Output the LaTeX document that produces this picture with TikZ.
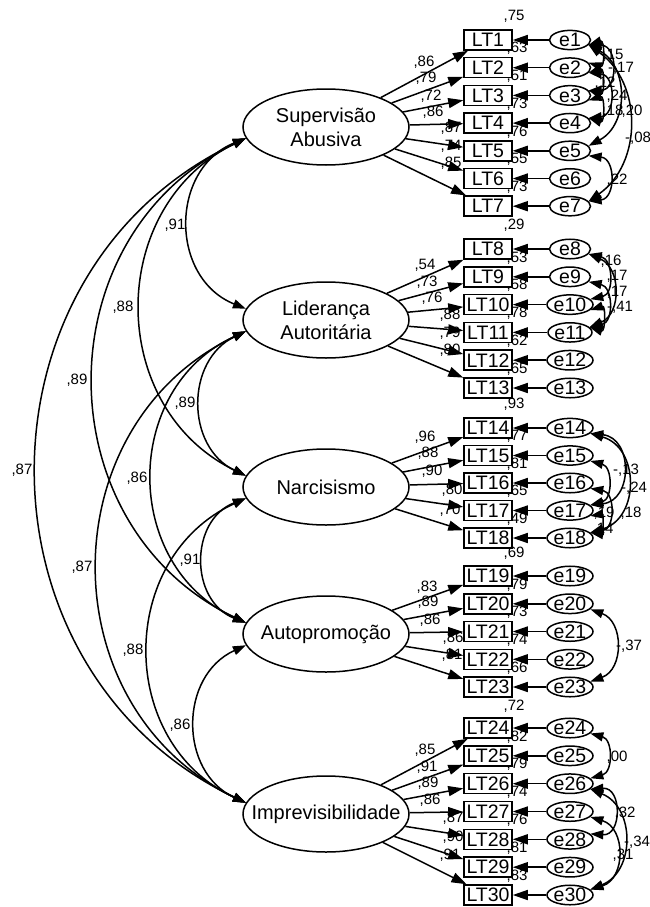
\documentclass[tikz,border=0pt]{standalone}
\usepackage{fontspec}
\setmainfont{Liberation Sans}
\usetikzlibrary{arrows.meta,shapes.geometric}
\begin{document}
\begin{tikzpicture}[x=1pt,y=1pt,line width=1.5pt,
  latent/.style={ellipse,draw,minimum width=166pt,minimum height=76pt,inner sep=0pt,
    label={[lattext]center:#1}},
  lattext/.style={align=center,inner sep=0pt,font=\fontsize{20}{24}\selectfont},
  obs/.style={rectangle,draw,fill=white,minimum width=48pt,minimum height=20pt,inner sep=0pt,
    font=\fontsize{19.5}{20}\selectfont},
  err/.style={ellipse,draw,fill=white,minimum width=41pt,minimum height=19pt,inner sep=0pt,
    font=\fontsize{19.5}{20}\selectfont},
  lbl/.style={inner sep=0pt,font=\fontsize{15}{16}\selectfont},
  load/.style={-{Triangle[length=15pt,width=10pt]}},
  cov/.style={{Triangle[length=13pt,width=9pt]}-{Triangle[length=13pt,width=9pt]}},
  % circular-looking arcs: #1 = angle between tangent and chord
  arcR/.code={\pgfmathsetmacro\arcl{0.8514/(cos(#1/2))^2}\pgfmathsetmacro\arco{-90+#1}%
    \pgfmathsetmacro\arci{90-#1}\edef\arcdo{\noexpand\pgfkeysalso{out=\arco,in=\arci,looseness=\arcl}}\arcdo},
  arcL/.code={\pgfmathsetmacro\arcl{0.8514/(cos(#1/2))^2}\pgfmathsetmacro\arco{-90-#1}%
    \pgfmathsetmacro\arci{90+#1}\edef\arcdo{\noexpand\pgfkeysalso{out=\arco,in=\arci,looseness=\arcl}}\arcdo}]

\useasboundingbox[fill=white] (0,0) rectangle (650,-907);

% latent factors (fixed-size ellipses, text set as centred labels)
\node[latent={Supervisão\\Abusiva}]   (sup)  at (326,-127) {};
\node[latent={Liderança\\Autoritária}] (lid) at (326,-320) {};
\node[latent={Narcisismo}]        (nar)  at (326,-487) {};
\node[latent={Autopromoção}]      (auto) at (326,-634) {};
\node[latent={Imprevisibilidade}] (imp)  at (326,-814) {};

% indicators and their error terms
\foreach \i/\y in {1/40,2/67.7,3/95.4,4/123.1,5/150.8,6/178.5,7/206.2,
  8/249,9/276.8,10/304.6,11/332.4,12/360.2,13/388,
  14/428,15/455.5,16/483,17/510.5,18/538,
  19/576,20/603.8,21/631.5,22/659.3,23/687,
  24/728,25/755.8,26/783.7,27/811.5,28/839.3,29/867.2,30/895}{
  \node[obs] (lt\i) at (488,-\y) {LT\i};
  \node[err] (e\i) at (570,-\y) {e\i};
}

% squared multiple correlations
\node[lbl] (r1)  at (514,-16)    {,75};
\node[lbl] (r2)  at (517,-48.7)  {,63};
\node[lbl] (r3)  at (517,-76.4)  {,51};
\node[lbl] (r4)  at (517,-104.1) {,73};
\node[lbl] (r5)  at (517,-131.8) {,76};
\node[lbl] (r6)  at (517,-159.5) {,55};
\node[lbl] (r7)  at (517,-187.2) {,73};
\node[lbl] (r8)  at (514,-225)   {,29};
\node[lbl] (r9)  at (517,-257.8) {,53};
\node[lbl] (r10) at (517,-285.6) {,58};
\node[lbl] (r11) at (517,-313.4) {,78};
\node[lbl] (r12) at (517,-341.2) {,62};
\node[lbl] (r13) at (517,-369)   {,65};
\node[lbl] (r14) at (514,-404)   {,93};
\node[lbl] (r15) at (517,-436.5) {,77};
\node[lbl] (r16) at (517,-464)   {,81};
\node[lbl] (r17) at (517,-491.5) {,65};
\node[lbl] (r18) at (517,-519)   {,49};
\node[lbl] (r19) at (514,-553)   {,69};
\node[lbl] (r20) at (517,-584.8) {,79};
\node[lbl] (r21) at (517,-612.5) {,73};
\node[lbl] (r22) at (517,-640.3) {,74};
\node[lbl] (r23) at (517,-668)   {,66};
\node[lbl] (r24) at (514,-706)   {,72};
\node[lbl] (r25) at (517,-736.8) {,82};
\node[lbl] (r26) at (517,-764.7) {,79};
\node[lbl] (r27) at (517,-792.5) {,74};
\node[lbl] (r28) at (517,-820.3) {,76};
\node[lbl] (r29) at (517,-848.2) {,81};
\node[lbl] (r30) at (517,-876)   {,83};

% factor loadings
\foreach \i in {1,...,7}   \draw[load] (sup)  -- (lt\i);
\foreach \i in {8,...,13}  \draw[load] (lid)  -- (lt\i);
\foreach \i in {14,...,18} \draw[load] (nar)  -- (lt\i);
\foreach \i in {19,...,23} \draw[load] (auto) -- (lt\i);
\foreach \i in {24,...,30} \draw[load] (imp)  -- (lt\i);
% error paths
\foreach \i in {1,...,30} \draw[load] (e\i) -- (lt\i);

% loading values
\node[lbl] (l1)  at (424,-62)  {,86};
\node[lbl] (l2)  at (426,-78)  {,79};
\node[lbl] (l3)  at (431,-96)  {,72};
\node[lbl] (l4)  at (433,-112) {,86};
\node[lbl] (l5)  at (451,-128) {,87};
\node[lbl] (l6)  at (451,-146) {,74};
\node[lbl] (l7)  at (451,-163) {,85};
\node[lbl] (l8)  at (425,-265) {,54};
\node[lbl] (l9)  at (427,-282) {,73};
\node[lbl] (l10) at (432,-298) {,76};
\node[lbl] (l11) at (450,-315) {,88};
\node[lbl] (l12) at (450,-333) {,79};
\node[lbl] (l13) at (450,-350) {,80};
\node[lbl] (l14) at (425,-437) {,96};
\node[lbl] (l15) at (428,-453) {,88};
\node[lbl] (l16) at (432,-471) {,90};
\node[lbl] (l17) at (452,-490) {,80};
\node[lbl] (l18) at (450,-510) {,70};
\node[lbl] (l19) at (427,-587) {,83};
\node[lbl] (l20) at (428,-602) {,89};
\node[lbl] (l21) at (430,-620) {,86};
\node[lbl] (l22) at (453,-638) {,86};
\node[lbl] (l23) at (452,-655) {,81};
\node[lbl] (l24) at (425,-750) {,85};
\node[lbl] (l25) at (427,-767) {,91};
\node[lbl] (l26) at (428,-783) {,89};
\node[lbl] (l27) at (430,-800) {,86};
\node[lbl] (l28) at (453,-818) {,87};
\node[lbl] (l29) at (453,-837) {,90};
\node[lbl] (l30) at (450,-855) {,91};

% correlations between factors
\draw[cov] (sup.188)  to[arcL=68]   (lid.172);
\draw[cov] (sup.188)  to[arcL=64]   (nar.172);
\draw[cov] (sup.188)  to[arcL=64.4] (auto.172);
\draw[cov] (sup.188)  to[arcL=64.5] (imp.172);
\draw[cov] (lid.188)  to[arcL=64.4] (nar.172);
\draw[cov] (lid.188)  to[arcL=65.4] (auto.172);
\draw[cov] (lid.188)  to[arcL=64.4] (imp.172);
\draw[cov] (nar.188)  to[arcL=68.7] (auto.172);
\draw[cov] (nar.188)  to[arcL=65.3] (imp.172);
\draw[cov] (auto.188) to[arcL=65.4] (imp.172);

\node[lbl] (c1)  at (175,-225) {,91};
\node[lbl] (c2)  at (123,-307) {,88};
\node[lbl] (c3)  at (77,-380)  {,89};
\node[lbl] (c4)  at (22,-470)  {,87};
\node[lbl] (c5)  at (185,-403) {,89};
\node[lbl] (c6)  at (137,-478) {,86};
\node[lbl] (c7)  at (82,-567)  {,87};
\node[lbl] (c8)  at (190,-560) {,91};
\node[lbl] (c9)  at (133,-650) {,88};
\node[lbl] (c10) at (180,-725) {,86};

% correlated errors
\draw[cov] (e1.-15) to[arcR=108] (e2.15);
\draw[cov] (e1.-15) to[arcR=89]  (e3.15);
\draw[cov] (e2.-15) to[arcR=108] (e3.15);
\draw[cov] (e3.-15) to[arcR=108] (e4.15);
\draw[cov] (e2.-15) to[arcR=84]  (e4.15);
\draw[cov] (e1.-15) to[arcR=62]  (e5.15);
\draw[cov] (e1.-15) to[arcR=55]  (e7.15);
\draw[cov] (e5.-15) to[arcR=84]  (e7.15);

\draw[cov] (e8.-15)  to[arcR=78]  (e10.15);
\draw[cov] (e9.-15)  to[arcR=78]  (e11.15);
\draw[cov] (e8.-15)  to[arcR=67]  (e11.15);
\draw[cov] (e10.-15) to[arcR=108] (e11.15);

\draw[cov] (e14.-15) to[arcR=74] (e18.15);
\draw[cov] (e14.-15) to[arcR=84] (e17.15);
\draw[cov] (e15.-15) to[arcR=75] (e17.15);
\draw[cov] (e16.-15) to[arcR=81] (e18.15);
\draw[cov] (e17.-15) to[arcR=99] (e18.15);

\draw[cov] (e20.-15) to[arcR=70] (e23.15);

\draw[cov] (e24.-15) to[arcR=75] (e26.15);
\draw[cov] (e26.-15) to[arcR=94] (e28.15);
\draw[cov] (e26.-15) to[arcR=68] (e30.15);
\draw[cov] (e27.-15) to[arcR=73] (e30.15);

\node[lbl] (k1)  at (613,-55)  {,15};
\node[lbl] (k2)  at (621,-68)  {-,17};
\node[lbl] (k3)  at (605,-83)  {,12};
\node[lbl] (k4)  at (617,-96)  {,24};
\node[lbl] (k5)  at (613,-111) {,18};
\node[lbl] (k6)  at (632,-111) {,20};
\node[lbl] (k7)  at (638,-138) {-,08};
\node[lbl] (k8)  at (617,-180) {,22};
\node[lbl] (k9)  at (611,-261) {,16};
\node[lbl] (k10) at (617,-276) {,17};
\node[lbl] (k11) at (617,-292) {,17};
\node[lbl] (k12) at (620,-307) {-,41};
\node[lbl] (k13) at (626,-470) {-,13};
\node[lbl] (k14) at (634,-488) {-,24};
\node[lbl] (k15) at (604,-513) {,19};
\node[lbl] (k16) at (631,-513) {,18};
\node[lbl] (k17) at (603,-529) {,14};
\node[lbl] (k18) at (629,-646) {-,37};
\node[lbl] (k19) at (617,-757) {,00};
\node[lbl] (k20) at (625,-813) {,32};
\node[lbl] (k21) at (637,-842) {-,34};
\node[lbl] (k22) at (623,-855) {,31};
\end{tikzpicture}
\end{document}
